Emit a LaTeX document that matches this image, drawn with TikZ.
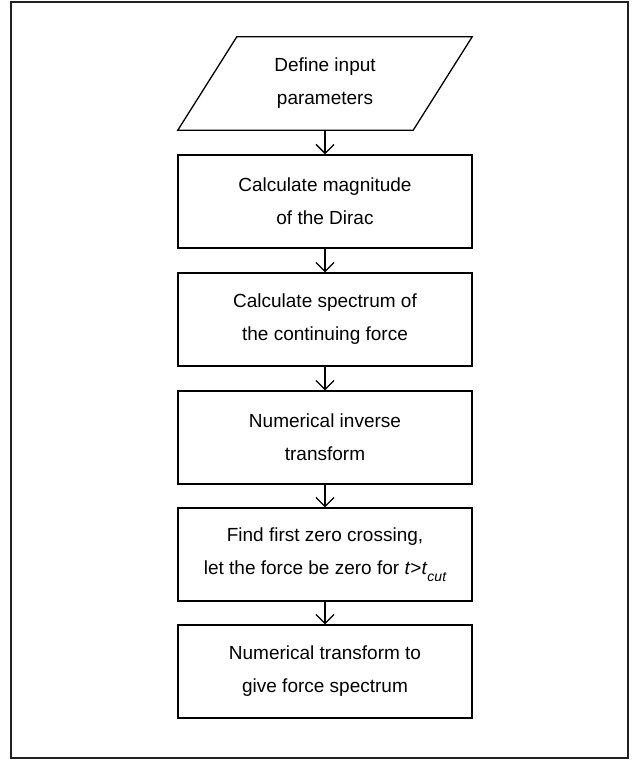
\documentclass[tikz,border=0pt]{standalone}
\usepackage{fontspec}
\setmainfont{Liberation Sans}
\usetikzlibrary{arrows.meta}
\definecolor{framegray}{RGB}{35,31,32}
\tikzstyle{stepbox}=[draw,line width=1.3pt,minimum width=294pt,minimum height=93pt,align=center,font=\fontsize{19}{33}\selectfont]
\tikzstyle{inbox}=[minimum width=235pt,minimum height=93pt,align=center,inner sep=0pt,font=\fontsize{19}{33}\selectfont]
\tikzstyle{flow}=[line width=1.3pt,-{Straight Barb[length=9pt,width=18pt]}]
\newcommand{\tcut}{\textit{t}>\textit{t}\raisebox{-0.4em}{\fontsize{14}{14}\selectfont\itshape cut}}

\begin{document}
\begin{tikzpicture}[x=1pt,y=1pt]
    \useasboundingbox (0,0) rectangle (643,760);
    \draw[line width=2pt,framegray] (11,2) rectangle (628,758);
    % input parallelogram
    \node[inbox] (input) at (325,676.5) {Define input\\parameters};
    \draw[line width=1.3pt] ([xshift=-29.5pt]input.south west) -- ([xshift=-29.5pt]input.south east)
        -- ([xshift=29.5pt]input.north east) -- ([xshift=29.5pt]input.north west) -- cycle;
    \node[stepbox] (dirac) at (325,558.5) {Calculate magnitude\\of the Dirac};
    \node[stepbox] (spec)  at (325,440.5) {Calculate spectrum of\\the continuing force};
    \node[stepbox] (inv)   at (325,322.5) {Numerical inverse\\transform};
    \node[stepbox] (zero)  at (325,205.5) {Find first zero crossing,\\let the force be zero for \tcut};
    \node[stepbox] (fwd)   at (325,88.5)  {Numerical transform to\\give force spectrum};
    \draw[flow] (input) -- (dirac);
    \draw[flow] (dirac) -- (spec);
    \draw[flow] (spec) -- (inv);
    \draw[flow] (inv) -- (zero);
    \draw[flow] (zero) -- (fwd);
\end{tikzpicture}
\end{document}
